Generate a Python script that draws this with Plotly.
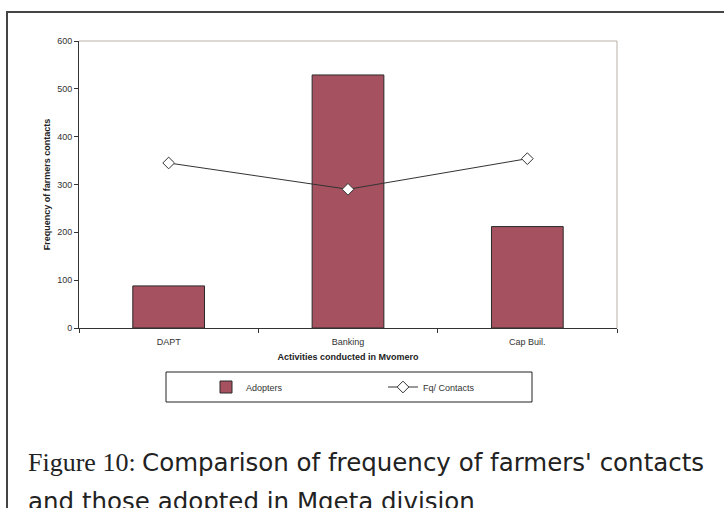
import plotly.graph_objects as go

categories = ["DAPT", "Banking", "Cap Buil."]
adopters = [88, 529, 212]
fq_contacts = [345, 290, 354]
y_ticks = [0, 100, 200, 300, 400, 500, 600]

L, R, T, B = 79, 617, 41, 328
W, H = 724, 508

def px(x):
    return (x - L) / (R - L)

def py(y):
    return (B - y) / (B - T)

fig = go.Figure()
fig.add_trace(go.Bar(
    x=categories, y=adopters, name="Adopters",
    marker=dict(color="#A5515F", line=dict(color="#2a2a2a", width=1)),
    width=0.4,
))
fig.add_trace(go.Scatter(
    x=categories, y=fq_contacts, name="Fq/ Contacts", mode="lines+markers",
    line=dict(color="#333333", width=1),
    marker=dict(symbol="diamond", size=9, color="white", line=dict(color="#333333", width=1)),
))

font = "Liberation Sans, Arial, sans-serif"
fig.update_layout(
    width=W, height=H,
    margin=dict(l=L, r=W - R, t=T, b=H - B),
    paper_bgcolor="white", plot_bgcolor="white",
    font=dict(family=font, size=9, color="#333333"),
    showlegend=True,
    legend=dict(orientation="h", x=px(206), xanchor="left", y=py(387), yanchor="middle",
                entrywidth=132, entrywidthmode="pixels", font=dict(size=9, color="#333333"),
                bgcolor="rgba(0,0,0,0)", borderwidth=0, itemwidth=30),
    xaxis=dict(type="category", showgrid=False, showline=True, linecolor="#333333", linewidth=1,
               ticks="outside", ticklen=4, tickcolor="#333333", tickson="boundaries",
               ticklabelstandoff=5,
               tickfont=dict(size=9, color="#333333"),
               title=dict(text="<b>Activities conducted in Mvomero</b>", font=dict(size=9, color="#222222"), standoff=7)),
    yaxis=dict(range=[0, 600], tickvals=y_ticks, showgrid=False, showline=True, linecolor="#333333",
               linewidth=1, ticks="outside", ticklen=4, tickcolor="#333333", zeroline=False,
               tickfont=dict(size=9, color="#333333"),
               title=dict(text="<b>Frequency of farmers contacts</b>", font=dict(size=9, color="#222222"), standoff=5)),
)

# plot area border (top/right lighter)
fig.add_shape(type="line", xref="paper", yref="paper", x0=0, x1=1, y0=1, y1=1,
              line=dict(color="#b8b0a8", width=1), layer="below")
fig.add_shape(type="line", xref="paper", yref="paper", x0=1, x1=1, y0=0, y1=1,
              line=dict(color="#b8b0a8", width=1), layer="below")
# legend box
fig.add_shape(type="rect", xref="paper", yref="paper", x0=px(166), x1=px(532), y0=py(372), y1=py(402),
              line=dict(color="#222222", width=1), fillcolor="rgba(0,0,0,0)")
# outer frame
fig.add_shape(type="line", xref="paper", yref="paper", x0=px(6), x1=px(740), y0=py(12), y1=py(12),
              line=dict(color="#444444", width=2))
fig.add_shape(type="line", xref="paper", yref="paper", x0=px(7), x1=px(7), y0=py(12), y1=py(520),
              line=dict(color="#444444", width=2))

caption1 = ('<span style="font-family:\'Liberation Serif\', \'Times New Roman\', serif; font-size:26px">Figure 10: </span>'
            'Comparison of frequency of farmers\' contacts')
fig.add_annotation(xref="paper", yref="paper", x=px(26), y=py(462), xanchor="left", yanchor="middle",
                   text=caption1, showarrow=False, align="left",
                   font=dict(family="DejaVu Sans, sans-serif", size=24.5, color="#222222"))
fig.add_annotation(xref="paper", yref="paper", x=px(26), y=py(501), xanchor="left", yanchor="middle",
                   text="and those adopted in Mgeta division", showarrow=False, align="left",
                   font=dict(family="DejaVu Sans, sans-serif", size=24.5, color="#222222"))

fig.write_html("out.html", config={"displayModeBar": False},
               post_script="document.body.style.margin='0';document.body.style.overflow='hidden';")
